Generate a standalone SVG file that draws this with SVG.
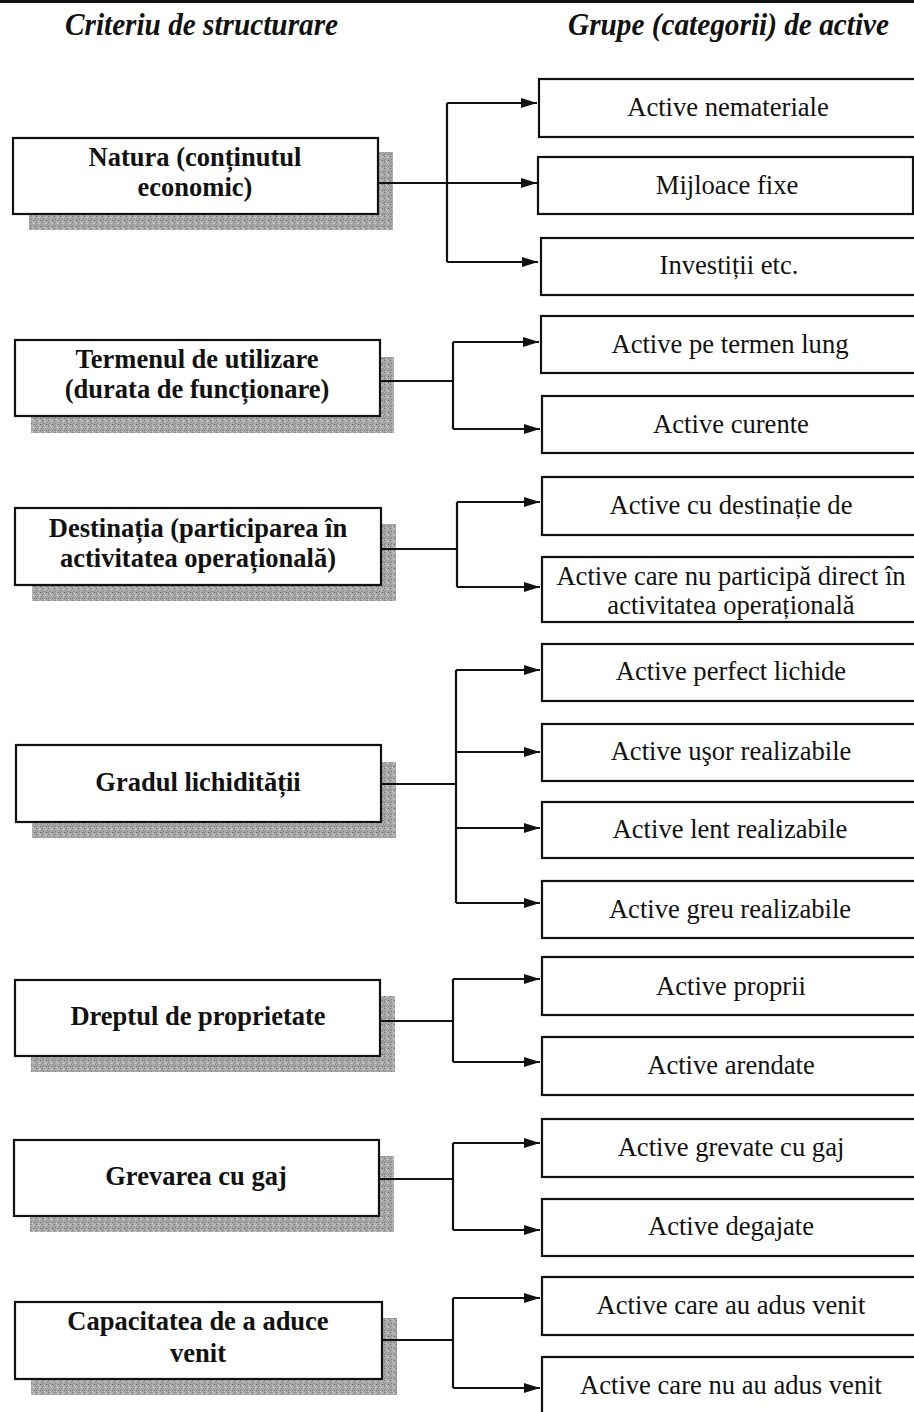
<svg xmlns="http://www.w3.org/2000/svg" width="914" height="1412" viewBox="0 0 914 1412">
  <defs>
    <!-- grainy halftone used for the drop shadows -->
    <pattern id="grain" width="6" height="6" patternUnits="userSpaceOnUse">
      <rect width="6" height="6" fill="#a9a9a9"/>
      <rect x="0" y="0" width="1" height="1" fill="#6e6e6e"/>
      <rect x="3" y="1" width="1" height="1" fill="#d6d6d6"/>
      <rect x="1" y="3" width="1" height="1" fill="#7e7e7e"/>
      <rect x="4" y="4" width="1" height="1" fill="#626262"/>
      <rect x="5" y="2" width="1" height="1" fill="#8e8e8e"/>
      <rect x="2" y="5" width="1" height="1" fill="#cacaca"/>
      <rect x="4" y="0" width="1" height="1" fill="#c0c0c0"/>
      <rect x="0" y="4" width="1" height="1" fill="#848484"/>
    </pattern>
    <marker id="arrow" markerUnits="userSpaceOnUse" markerWidth="17" markerHeight="12" refX="16" refY="6" orient="auto">
      <path d="M0,1 L16,6 L0,11 Z" fill="#111"/>
    </marker>
    <style>
      .shadow { fill: url(#grain); }
      .crit { fill: #fff; stroke: #111; stroke-width: 2.2; }
      .grp { fill: #fff; stroke: #111; stroke-width: 2.2; }
      .ct { font-family: "Liberation Serif", "Times New Roman", serif; font-weight: bold; font-size: 26.5px; fill: #111; text-anchor: middle; }
      .gt { font-family: "Liberation Serif", "Times New Roman", serif; font-size: 26.6px; fill: #111; text-anchor: middle; }
      .hd { font-family: "Liberation Serif", "Times New Roman", serif; font-weight: bold; font-style: italic; font-size: 31px; fill: #111; }
      .wire { fill: none; stroke: #111; stroke-width: 2.2; }
      .arr { fill: none; stroke: #111; stroke-width: 2.2; marker-end: url(#arrow); }
    </style>
  </defs>

  <rect width="914" height="1412" fill="#fff"/>
  <rect x="0" y="0" width="914" height="3" fill="#111"/>

  <!-- column headings -->
  <text class="hd" x="65" y="35" textLength="273" lengthAdjust="spacingAndGlyphs">Criteriu de structurare</text>
  <text class="hd" x="568" y="35" textLength="321" lengthAdjust="spacingAndGlyphs">Grupe (categorii) de active</text>

  <!-- criteria (left column) -->
  <g id="crit-natura">
    <rect class="shadow" x="29" y="152" width="364" height="78"/>
    <rect class="crit" x="13" y="138" width="365" height="76"/>
    <text class="ct" x="195" y="166">Natura (conținutul</text>
    <text class="ct" x="195" y="196">economic)</text>
  </g>
  <g id="crit-termen">
    <rect class="shadow" x="31" y="357" width="363" height="76"/>
    <rect class="crit" x="15" y="340" width="365" height="76"/>
    <text class="ct" x="197" y="368">Termenul de utilizare</text>
    <text class="ct" x="197" y="398">(durata de funcționare)</text>
  </g>
  <g id="crit-destinatie">
    <rect class="shadow" x="32" y="524" width="364" height="77"/>
    <rect class="crit" x="15" y="508" width="366" height="77"/>
    <text class="ct" x="198" y="537">Destinația (participarea în</text>
    <text class="ct" x="198" y="567">activitatea operațională)</text>
  </g>
  <g id="crit-lichiditate">
    <rect class="shadow" x="32" y="762" width="364" height="76"/>
    <rect class="crit" x="16" y="745" width="365" height="77"/>
    <text class="ct" x="198" y="791">Gradul lichidității</text>
  </g>
  <g id="crit-proprietate">
    <rect class="shadow" x="31" y="996" width="364" height="76"/>
    <rect class="crit" x="15" y="980" width="365" height="76"/>
    <text class="ct" x="198" y="1025">Dreptul de proprietate</text>
  </g>
  <g id="crit-gaj">
    <rect class="shadow" x="30" y="1156" width="364" height="76"/>
    <rect class="crit" x="14" y="1140" width="365" height="76"/>
    <text class="ct" x="196" y="1185">Grevarea cu gaj</text>
  </g>
  <g id="crit-venit">
    <rect class="shadow" x="31" y="1318" width="366" height="77"/>
    <rect class="crit" x="15" y="1302" width="367" height="77"/>
    <text class="ct" x="198" y="1330">Capacitatea de a aduce</text>
    <text class="ct" x="198" y="1362">venit</text>
  </g>

  <!-- asset groups (right column) -->
  <g id="g-nemateriale"><rect class="grp" x="539" y="79" width="380" height="58"/><text class="gt" x="728" y="116">Active nemateriale</text></g>
  <g id="g-fixe"><rect class="grp" x="538" y="157" width="375" height="57"/><text class="gt" x="727" y="194">Mijloace fixe</text></g>
  <g id="g-investitii"><rect class="grp" x="541" y="238" width="378" height="57"/><text class="gt" x="729" y="274">Investiții etc.</text></g>
  <g id="g-termen-lung"><rect class="grp" x="541" y="316" width="378" height="57"/><text class="gt" x="730" y="353">Active pe termen lung</text></g>
  <g id="g-curente"><rect class="grp" x="542" y="396" width="377" height="57"/><text class="gt" x="731" y="433">Active curente</text></g>
  <g id="g-destinatie"><rect class="grp" x="542" y="477" width="377" height="58"/><text class="gt" x="731" y="514">Active cu destinație de</text></g>
  <g id="g-neoperationale"><rect class="grp" x="542" y="557" width="377" height="65"/><text class="gt" x="731" y="585">Active care nu participă direct în</text><text class="gt" x="731" y="614">activitatea operațională</text></g>
  <g id="g-lichide"><rect class="grp" x="542" y="644" width="377" height="57"/><text class="gt" x="731" y="680">Active perfect lichide</text></g>
  <g id="g-usor"><rect class="grp" x="542" y="724" width="377" height="57"/><text class="gt" x="731" y="760">Active uşor realizabile</text></g>
  <g id="g-lent"><rect class="grp" x="542" y="802" width="377" height="56"/><text class="gt" x="730" y="838">Active lent realizabile</text></g>
  <g id="g-greu"><rect class="grp" x="542" y="881" width="377" height="57"/><text class="gt" x="730" y="918">Active greu realizabile</text></g>
  <g id="g-proprii"><rect class="grp" x="542" y="957" width="377" height="58"/><text class="gt" x="731" y="995">Active proprii</text></g>
  <g id="g-arendate"><rect class="grp" x="542" y="1037" width="377" height="58"/><text class="gt" x="731" y="1074">Active arendate</text></g>
  <g id="g-grevate"><rect class="grp" x="542" y="1119" width="377" height="58"/><text class="gt" x="731" y="1156">Active grevate cu gaj</text></g>
  <g id="g-degajate"><rect class="grp" x="542" y="1199" width="377" height="57"/><text class="gt" x="731" y="1235">Active degajate</text></g>
  <g id="g-adus"><rect class="grp" x="542" y="1277" width="377" height="58"/><text class="gt" x="731" y="1314">Active care au adus venit</text></g>
  <g id="g-neadus"><rect class="grp" x="542" y="1357" width="377" height="70"/><text class="gt" x="731" y="1394">Active care nu au adus venit</text></g>

  <!-- connectors -->
  <g id="connectors">
    <!-- Natura -->
    <path class="wire" d="M447,103 V262"/>
    <path class="arr" d="M378,183 H537"/>
    <path class="arr" d="M447,103 H537"/>
    <path class="arr" d="M447,262 H538"/>
    <!-- Termenul de utilizare -->
    <path class="wire" d="M380,381 H453 M453,342 V429"/>
    <path class="arr" d="M453,342 H539"/>
    <path class="arr" d="M453,429 H540"/>
    <!-- Destinația -->
    <path class="wire" d="M381,549 H457 M457,502 V587"/>
    <path class="arr" d="M457,502 H540"/>
    <path class="arr" d="M457,587 H540"/>
    <!-- Gradul lichidității -->
    <path class="wire" d="M381,784 H456 M456,670 V903"/>
    <path class="arr" d="M456,670 H540"/>
    <path class="arr" d="M456,752 H540"/>
    <path class="arr" d="M456,828 H540"/>
    <path class="arr" d="M456,903 H540"/>
    <!-- Dreptul de proprietate -->
    <path class="wire" d="M380,1021 H453 M453,979 V1062"/>
    <path class="arr" d="M453,979 H540"/>
    <path class="arr" d="M453,1062 H540"/>
    <!-- Grevarea cu gaj -->
    <path class="wire" d="M379,1179 H453 M453,1143 V1230"/>
    <path class="arr" d="M453,1143 H540"/>
    <path class="arr" d="M453,1230 H540"/>
    <!-- Capacitatea de a aduce venit -->
    <path class="wire" d="M382,1340 H453 M453,1298 V1388"/>
    <path class="arr" d="M453,1298 H540"/>
    <path class="arr" d="M453,1388 H540"/>
  </g>
</svg>
